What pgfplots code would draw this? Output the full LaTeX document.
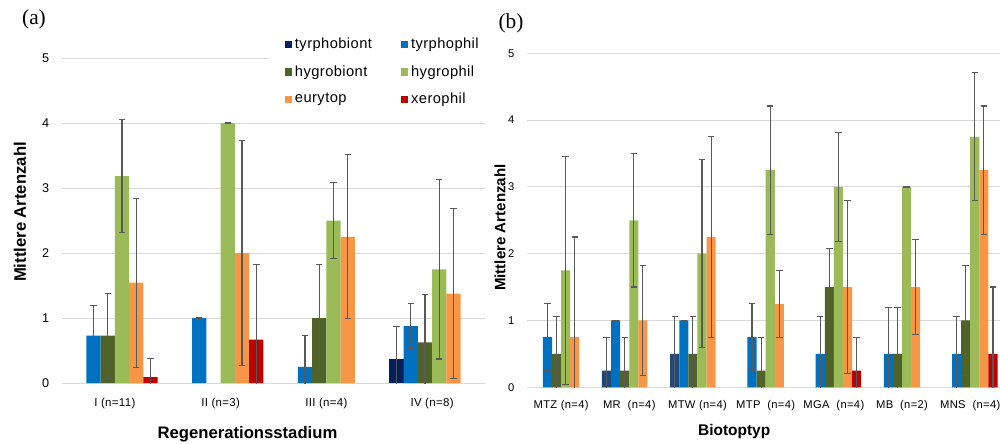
\documentclass[border=0pt]{standalone}
\usepackage{fontspec}
\setmainfont{Liberation Sans}
\newfontfamily\seriffont{Liberation Serif}
\newfontfamily\spaced[LetterSpace=3]{Liberation Sans}
\usepackage{pgfplots}
\usepackage{pgfplotstable}
\pgfplotsset{compat=1.18}

\definecolor{tbA}{HTML}{002060}
\definecolor{tbB}{HTML}{1F497D}
\definecolor{tp}{HTML}{0070C0}
\definecolor{hb}{HTML}{4F6228}
\definecolor{hp}{HTML}{9BBB59}
\definecolor{eu}{HTML}{F79646}
\definecolor{xe}{HTML}{C00000}
\definecolor{gridc}{HTML}{D9D9D9}
\definecolor{errc}{HTML}{595959}

% ---------- Panel (a): Regenerationsstadium ----------
\pgfplotstableread{
x y e
0 nan 0
1 nan 0
2 nan 0
3 0.375 0.50
}\aTB
\pgfplotstableread{
x y e
0 0.727 0.46
1 1.000 0.001
2 0.250 0.48
3 0.875 0.35
}\aTP
\pgfplotstableread{
x y e
0 0.727 0.65
1 nan 0
2 1.000 0.82
3 0.625 0.74
}\aHB
\pgfplotstableread{
x y e
0 3.182 0.87
1 4.000 0.001
2 2.500 0.58
3 1.750 1.38
}\aHP
\pgfplotstableread{
x y e
0 1.545 1.30
1 2.000 1.73
2 2.250 1.26
3 1.375 1.31
}\aEU
\pgfplotstableread{
x y e
0 0.091 0.29
1 0.667 1.15
2 nan 0
3 nan 0
}\aXE

% ---------- Panel (b): Biotoptyp ----------
\pgfplotstableread{
x y e
0 nan 0
1 0.25 0.50
2 0.50 0.56
3 nan 0
4 nan 0
5 nan 0
6 nan 0
}\bTB
\pgfplotstableread{
x y e
0 0.75 0.50
1 1.00 0.001
2 1.00 0.001
3 0.75 0.50
4 0.50 0.56
5 0.50 0.70
6 0.50 0.56
}\bTP
\pgfplotstableread{
x y e
0 0.50 0.56
1 0.25 0.50
2 0.50 0.56
3 0.25 0.50
4 1.50 0.58
5 0.50 0.70
6 1.00 0.82
}\bHB
\pgfplotstableread{
x y e
0 1.75 1.71
1 2.50 1.00
2 2.00 1.41
3 3.25 0.96
4 3.00 0.82
5 3.00 0.001
6 3.75 0.96
}\bHP
\pgfplotstableread{
x y e
0 0.75 1.50
1 1.00 0.82
2 2.25 1.50
3 1.25 0.50
4 1.50 1.29
5 1.50 0.71
6 3.25 0.96
}\bEU
\pgfplotstableread{
x y e
0 nan 0
1 nan 0
2 nan 0
3 nan 0
4 0.25 0.50
5 nan 0
6 0.50 1.00
}\bXE

\pgfplotsset{
  chart/.style={
    scale only axis, anchor=south west,
    ymin=0, ymax=5, ytick={0,1,2,3,4,5},
    ymajorgrids, grid style={gridc, line width=0.75pt},
    axis line style={draw=none},
    major tick length=0pt,
    /pgf/number format/assume math mode=true,
    unbounded coords=discard,
  },
  errstyle/.style={
    error bars/y dir=both, error bars/y explicit,
    error bars/error mark=|,
    error bars/error bar style={draw=errc, line width=0.85pt, mark size=2.4pt},
    error bars/error mark options={draw=errc, line width=0.85pt, mark size=2.4pt, solid}},
  barA/.style={ybar, bar width=0.135, bar shift=0, draw=none, mark size=2.4pt,
    legend image code/.code={\fill[##1] (0pt,-2.7pt) rectangle (5.4pt,2.7pt);},
    errstyle},
  barB/.style={ybar, bar width=0.1334, bar shift=0, draw=none, mark size=2.4pt,
    errstyle},
}

\begin{document}
\begin{tikzpicture}

\begin{axis}[chart,
  at={(46.5pt,45pt)}, width=317.25pt, height=243.75pt,
  xmin=-0.5, xmax=3.5, xtick={0,1,2,3},
  xticklabels={I (n=11), II (n=3), III (n=4), IV (n=8)},
  xticklabel style={font=\spaced\fontsize{8.6}{10}\selectfont, yshift=-7.5pt},
  yticklabel style={font=\fontsize{9.5}{11}\selectfont, xshift=-6pt},
  xlabel={\bfseries Regenerationsstadium},
  ylabel={\bfseries Mittlere Artenzahl},
  xlabel style={font=\fontsize{12.5}{14}\selectfont, at={(axis description cs:0.4385,-0.1575)}, anchor=center},
  ylabel style={font=\fontsize{12.5}{14}\selectfont, at={(axis description cs:-0.0993,0.526)}, anchor=center},
  legend columns=2, legend cell align=left,
  legend style={at={(axis description cs:0.489,1.086)}, anchor=north west,
    draw=none, fill=white, inner xsep=12pt, inner ysep=4pt,
    font=\spaced\fontsize{11}{13}\selectfont,
    row sep=7pt,
    /tikz/every even column/.append style={column sep=20pt}},
]
\addplot[barA, fill=tbA] table[x expr=\thisrow{x}-0.3375, y=y, y error=e] {\aTB};
\addlegendentry{tyrphobiont}
\addplot[barA, fill=tp] table[x expr=\thisrow{x}-0.2025, y=y, y error=e] {\aTP};
\addlegendentry{tyrphophil}
\addplot[barA, fill=hb] table[x expr=\thisrow{x}-0.0675, y=y, y error=e] {\aHB};
\addlegendentry{hygrobiont}
\addplot[barA, fill=hp] table[x expr=\thisrow{x}+0.0675, y=y, y error=e] {\aHP};
\addlegendentry{hygrophil}
\addplot[barA, fill=eu] table[x expr=\thisrow{x}+0.2025, y=y, y error=e] {\aEU};
\addlegendentry{eurytop}
\addplot[barA, fill=xe] table[x expr=\thisrow{x}+0.3375, y=y, y error=e] {\aXE};
\addlegendentry{xerophil}
\end{axis}

\begin{axis}[chart,
  at={(395.25pt,41.8pt)}, width=358pt, height=250.5pt,
  xmin=-0.5, xmax=6.5, xtick={0,1,2,3,4,5,6},
  xticklabels={MTZ (n=4), MR\ \ (n=4), MTW (n=4), MTP\ \ (n=4), MGA\ \ (n=4), MB\ \ (n=2), MNS\ \ (n=4)},
  xticklabel style={font=\spaced\fontsize{8.4}{10}\selectfont, yshift=-6pt},
  yticklabel style={font=\fontsize{8.4}{10}\selectfont, xshift=-6pt},
  xlabel={\bfseries Biotoptyp},
  ylabel={\bfseries Mittlere Artenzahl},
  xlabel style={font=\fontsize{11.6}{13}\selectfont, at={(axis description cs:0.434,-0.133)}, anchor=center},
  ylabel style={font=\fontsize{11.3}{13}\selectfont, at={(axis description cs:-0.0565,0.478)}, anchor=center},
]
\addplot[barB, fill=tbB] table[x expr=\thisrow{x}-0.3335, y=y, y error=e] {\bTB};
\addplot[barB, fill=tp] table[x expr=\thisrow{x}-0.2001, y=y, y error=e] {\bTP};
\addplot[barB, fill=hb] table[x expr=\thisrow{x}-0.0667, y=y, y error=e] {\bHB};
\addplot[barB, fill=hp] table[x expr=\thisrow{x}+0.0667, y=y, y error=e] {\bHP};
\addplot[barB, fill=eu] table[x expr=\thisrow{x}+0.2001, y=y, y error=e] {\bEU};
\addplot[barB, fill=xe] table[x expr=\thisrow{x}+0.3335, y=y, y error=e] {\bXE};
\end{axis}

\node[font=\seriffont\fontsize{16}{18}\selectfont] at (25.5pt,318pt) {(a)};
\node[font=\seriffont\fontsize{16}{18}\selectfont] at (383.25pt,314.5pt) {(b)};

\pgfresetboundingbox
\path[use as bounding box] (0,0) rectangle (750pt,332.25pt);
\end{tikzpicture}
\end{document}
